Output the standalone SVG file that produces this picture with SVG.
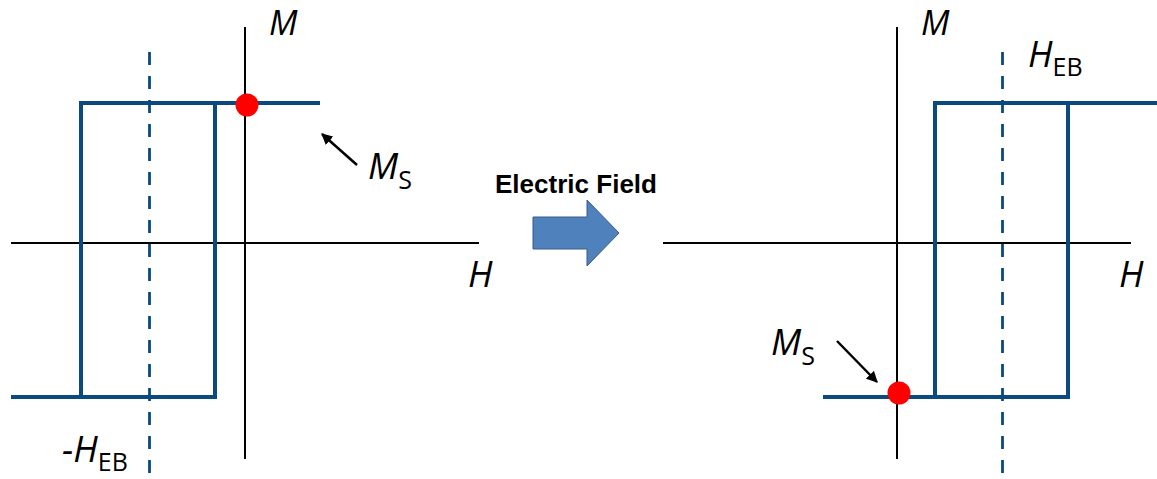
<svg xmlns="http://www.w3.org/2000/svg" width="1157" height="479" viewBox="0 0 1157 479">
<defs>
<style>
.axis{stroke:#000;stroke-width:2;fill:none}
.loop{stroke:#0B4A7E;stroke-width:4;fill:none;stroke-linejoin:miter;stroke-linecap:butt}
.dash{stroke:#0B4A7E;stroke-width:2.8;stroke-dasharray:13 11;fill:none}
.dot{fill:#FF0000}
.ptr{stroke:#000;stroke-width:2.5;fill:none}
.lbl{font-family:"Open Sans","Liberation Sans",sans-serif;font-style:italic;font-size:36px;fill:#000}
.top{font-size:34px}
.sub{font-family:"Open Sans","Liberation Sans",sans-serif;font-style:normal;font-size:25px;fill:#000}
.title{font-family:"Liberation Sans",Arial,sans-serif;font-weight:bold;font-size:25px;fill:#000}
</style>
<marker id="ah" viewBox="0 0 10 10" refX="9" refY="5" markerWidth="4.5" markerHeight="4.5" orient="auto" markerUnits="strokeWidth">
<path d="M0,0 L10,5 L0,10 Z" fill="#000"/>
</marker>
</defs>

<g id="left-panel">
<line class="axis" x1="11" y1="243" x2="479" y2="243"/>
<line class="axis" x1="245" y1="27" x2="245" y2="459"/>
<line class="dash" x1="149.5" y1="52" x2="149.5" y2="476"/>
<path class="loop" d="M11,397 H215 V103 H81 V397 M81,103 H320"/>
<circle class="dot" cx="247" cy="105" r="11.5"/>
</g>

<g id="right-panel">
<line class="axis" x1="663" y1="243" x2="1131" y2="243"/>
<line class="axis" x1="897" y1="27" x2="897" y2="459"/>
<line class="dash" x1="1002.5" y1="52" x2="1002.5" y2="476"/>
<path class="loop" d="M823,397 H1068 V103 H935 V397 M935,103 H1157"/>
<circle class="dot" cx="899" cy="393" r="11.5"/>
</g>

<g id="connectors">
<line class="ptr" x1="357" y1="165" x2="322" y2="134" marker-end="url(#ah)"/>
<line class="ptr" x1="837" y1="341" x2="877" y2="382" marker-end="url(#ah)"/>
</g>

<g id="labels-left">
<text class="lbl top" x="269" y="35">M</text>
<text class="lbl" x="368" y="179">M<tspan class="sub" dy="10" dx="0">S</tspan></text>
<text class="lbl" x="468" y="287">H</text>
<text class="lbl" x="62" y="462">-H<tspan class="sub" dy="9" dx="0">EB</tspan></text>
</g>

<g id="labels-right">
<text class="lbl top" x="921" y="35">M</text>
<text class="lbl" x="1028" y="67">H<tspan class="sub" dy="9" dx="0">EB</tspan></text>
<text class="lbl" x="1119" y="287">H</text>
<text class="lbl" x="771" y="355">M<tspan class="sub" dy="10" dx="0">S</tspan></text>
</g>

<g id="electric-field">
<text class="title" x="495" y="193" textLength="162" lengthAdjust="spacingAndGlyphs">Electric Field</text>
<path d="M533,217 H587 V200 L619,233 L587,266 V249 H533 Z" fill="#4F81BD" stroke="#385D8A" stroke-width="1"/>
</g>
</svg>
